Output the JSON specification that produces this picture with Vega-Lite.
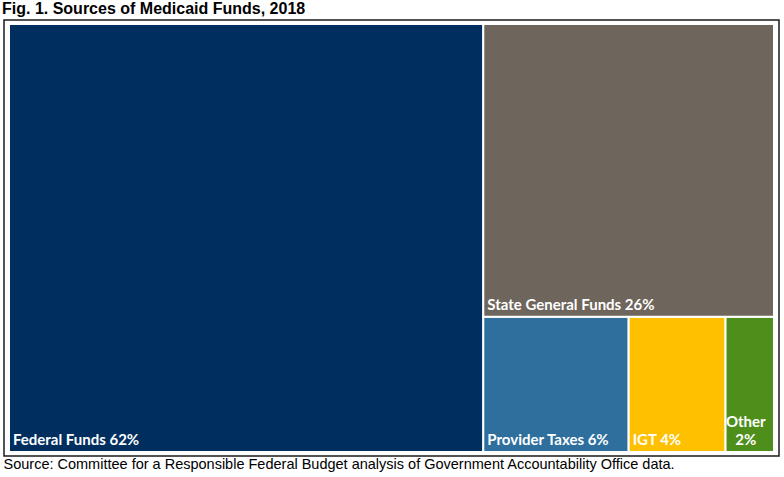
{
  "$schema": "https://vega.github.io/schema/vega-lite/v6.json",
  "width": 775,
  "height": 436,
  "autosize": {"type": "none"},
  "padding": {"left": 4, "top": 20, "right": 5, "bottom": 21},
  "background": "white",
  "title": {
    "text": "Fig. 1. Sources of Medicaid Funds, 2018",
    "anchor": "start",
    "font": "Liberation Sans",
    "fontSize": 16,
    "fontWeight": "bold",
    "color": "#000000",
    "baseline": "bottom",
    "offset": 2,
    "dx": -1,
    "dy": 15
  },
  "config": {
    "view": {"stroke": "#1a1a1a", "strokeWidth": 1.5}
  },
  "data": {
    "values": [
      {"source": "Federal Funds", "pct": 62, "column": "left", "block": "federal", "order": 1},
      {"source": "Provider Taxes", "pct": 6, "column": "right", "block": "bottom", "order": 2},
      {"source": "IGT", "pct": 4, "column": "right", "block": "bottom", "order": 3},
      {"source": "Other", "pct": 2, "column": "right", "block": "bottom", "order": 4},
      {"source": "State General Funds", "pct": 26, "column": "right", "block": "top", "order": 5}
    ]
  },
  "transform": [
    {"stack": "pct", "groupby": [], "sort": [{"field": "order"}], "as": ["g0", "g1"]},
    {"joinaggregate": [{"op": "min", "field": "g0", "as": "colStart"}, {"op": "sum", "field": "pct", "as": "colSum"}], "groupby": ["column"]},
    {"joinaggregate": [{"op": "min", "field": "g0", "as": "blockStart"}, {"op": "sum", "field": "pct", "as": "blockSum"}], "groupby": ["block"]},
    {"calculate": "datum.colStart + (datum.g0 - datum.blockStart) / datum.blockSum * datum.colSum", "as": "x0"},
    {"calculate": "datum.colStart + (datum.g1 - datum.blockStart) / datum.blockSum * datum.colSum", "as": "x1"},
    {"calculate": "(datum.blockStart - datum.colStart) / datum.colSum * 100", "as": "y0"},
    {"calculate": "(datum.blockStart - datum.colStart + datum.blockSum) / datum.colSum * 100", "as": "y1"},
    {"calculate": "(datum.x0 + datum.x1) / 2", "as": "xm"},
    {"calculate": "datum.source + ' ' + datum.pct + '%'", "as": "label"},
    {"calculate": "datum.source + '\\n' + datum.pct + '%'", "as": "label2"}
  ],
  "layer": [
    {
      "mark": {"type": "rect", "stroke": "white", "strokeWidth": 2},
      "encoding": {
        "x": {
          "field": "x0", "type": "quantitative",
          "scale": {"domain": [0, 100], "padding": 5, "nice": false, "zero": false},
          "axis": {
            "title": "Source: Committee for a Responsible Federal Budget analysis of Government Accountability Office data.",
            "domain": false, "ticks": false, "labels": false, "grid": false,
            "titleFont": "Liberation Sans", "titleFontSize": 14.5, "titleFontWeight": "normal",
            "titleColor": "#000000", "titleAlign": "left", "titleAnchor": "start",
            "titleX": -1, "titleY": 12, "titleBaseline": "alphabetic"
          }
        },
        "x2": {"field": "x1"},
        "y": {
          "field": "y0", "type": "quantitative",
          "scale": {"domain": [0, 100], "padding": 4, "nice": false, "zero": false},
          "axis": null
        },
        "y2": {"field": "y1"},
        "color": {
          "field": "source", "type": "nominal",
          "scale": {
            "domain": ["Federal Funds", "State General Funds", "Provider Taxes", "IGT", "Other"],
            "range": ["#002f5f", "#6e665c", "#2e6f9e", "#ffc000", "#4e8f1b"]
          },
          "legend": null
        }
      }
    },
    {
      "transform": [{"filter": "datum.source != 'Other'"}],
      "mark": {"type": "text", "align": "left", "baseline": "alphabetic", "dx": 4, "dy": -7, "font": "Lato", "fontSize": 15, "fontWeight": "bold", "color": "white"},
      "encoding": {
        "x": {"field": "x0", "type": "quantitative"},
        "y": {"field": "y0", "type": "quantitative"},
        "text": {"field": "label"}
      }
    },
    {
      "transform": [{"filter": "datum.source == 'Other'"}],
      "mark": {"type": "text", "align": "center", "baseline": "alphabetic", "dx": -4, "dy": -25, "lineBreak": "\n", "lineHeight": 18, "font": "Lato", "fontSize": 15, "fontWeight": "bold", "color": "white"},
      "encoding": {
        "x": {"field": "xm", "type": "quantitative"},
        "y": {"field": "y0", "type": "quantitative"},
        "text": {"field": "label2"}
      }
    }
  ]
}
